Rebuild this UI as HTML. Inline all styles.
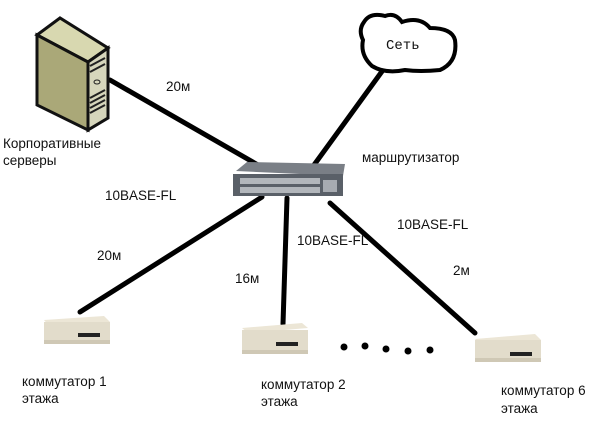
<!DOCTYPE html>
<html><head><meta charset="utf-8"><style>
body{margin:0;background:#fff;width:601px;height:426px;overflow:hidden}
svg text{font-family:"Liberation Sans","DejaVu Sans",sans-serif;font-size:13.5px;fill:#111}
</style></head><body>
<svg width="601" height="426" viewBox="0 0 601 426" xmlns="http://www.w3.org/2000/svg">
<g stroke="#000" stroke-width="5" stroke-linecap="round">
<line x1="110" y1="80" x2="258" y2="165"/>
<line x1="383" y1="70" x2="314" y2="165"/>
<line x1="262" y1="197" x2="80" y2="312"/>
<line x1="287" y1="198" x2="283" y2="324"/>
<line x1="330" y1="203" x2="475" y2="333"/>
</g>
<polygon points="37,35 60,18 108,48 88,62" fill="#d8d8b0" stroke="#111" stroke-width="3"/>
<polygon points="37,35 88,62 88,130 37,105" fill="#aaa878" stroke="#111" stroke-width="3"/>
<polygon points="88,62 108,48 108,118 88,130" fill="#d6d6bc" stroke="#111" stroke-width="3"/>
<g stroke="#222" stroke-width="2">
<line x1="90" y1="66" x2="105" y2="58"/><line x1="90" y1="72" x2="105" y2="64"/>
<line x1="90" y1="98" x2="105" y2="90"/><line x1="90" y1="103" x2="105" y2="95"/>
<line x1="90" y1="108" x2="105" y2="100"/><line x1="90" y1="113" x2="105" y2="105"/>
</g>
<ellipse cx="97" cy="82" rx="3" ry="2" fill="none" stroke="#222"/>
<path d="M364,22 Q370,12 385,16 Q395,12 402,22 Q420,16 430,28 Q452,28 455,40 Q458,62 440,70 Q420,72 405,70 Q385,74 372,66 Q360,55 363,40 Q358,30 364,22 Z" fill="#fff" stroke="#000" stroke-width="4"/>
<text x="386" y="49" style="font-family:'Liberation Mono',monospace;font-size:14px">Сеть</text>
<polygon points="236,171 247,162 345,164 343,176" fill="#7a7f86"/>
<rect x="233" y="174" width="110" height="22" fill="#5a6068"/>
<g fill="#c8ccd0">
<rect x="240" y="178" width="80" height="6" opacity=".8"/>
<rect x="240" y="187" width="80" height="6" opacity=".8"/>
<rect x="323" y="180" width="14" height="12" opacity=".7"/>
</g>
<g>
<polygon points="44,320 104,316 110,322 50,327" fill="#ece6d6"/>
<rect x="44" y="322" width="66" height="22" fill="#e2dccb"/>
<rect x="44" y="340" width="66" height="4" fill="#cfc8b5"/>
<rect x="78" y="333" width="22" height="4" fill="#222"/>
<polygon points="242,328 302,323 308,328 248,333" fill="#ece6d6"/>
<rect x="242" y="330" width="66" height="24" fill="#e2dccb"/>
<rect x="242" y="350" width="66" height="4" fill="#cfc8b5"/>
<rect x="276" y="342" width="22" height="4" fill="#222"/>
<polygon points="475,339 535,334 541,340 481,345" fill="#ece6d6"/>
<rect x="475" y="340" width="66" height="22" fill="#e2dccb"/>
<rect x="475" y="358" width="66" height="4" fill="#cfc8b5"/>
<rect x="510" y="352" width="22" height="4" fill="#222"/>
</g>
<g fill="#000">
<circle cx="344" cy="347" r="3.5"/><circle cx="365" cy="346" r="3.5"/><circle cx="386" cy="349" r="3.5"/><circle cx="408" cy="351" r="3.5"/><circle cx="430" cy="350" r="3.5"/>
</g>
<text x="166" y="91">20м</text>
<text x="3" y="148">Корпоративные</text>
<text x="3" y="165">серверы</text>
<text x="105" y="200">10BASE-FL</text>
<text x="362" y="162">маршрутизатор</text>
<text x="397" y="229">10BASE-FL</text>
<text x="297" y="245">10BASE-FL</text>
<text x="97" y="260">20м</text>
<text x="235" y="283">16м</text>
<text x="453" y="275">2м</text>
<text x="22" y="386">коммутатор 1</text>
<text x="22" y="403">этажа</text>
<text x="261" y="389">коммутатор 2</text>
<text x="261" y="406">этажа</text>
<text x="501" y="395">коммутатор 6</text>
<text x="501" y="413">этажа</text>
</svg>
</body></html>
